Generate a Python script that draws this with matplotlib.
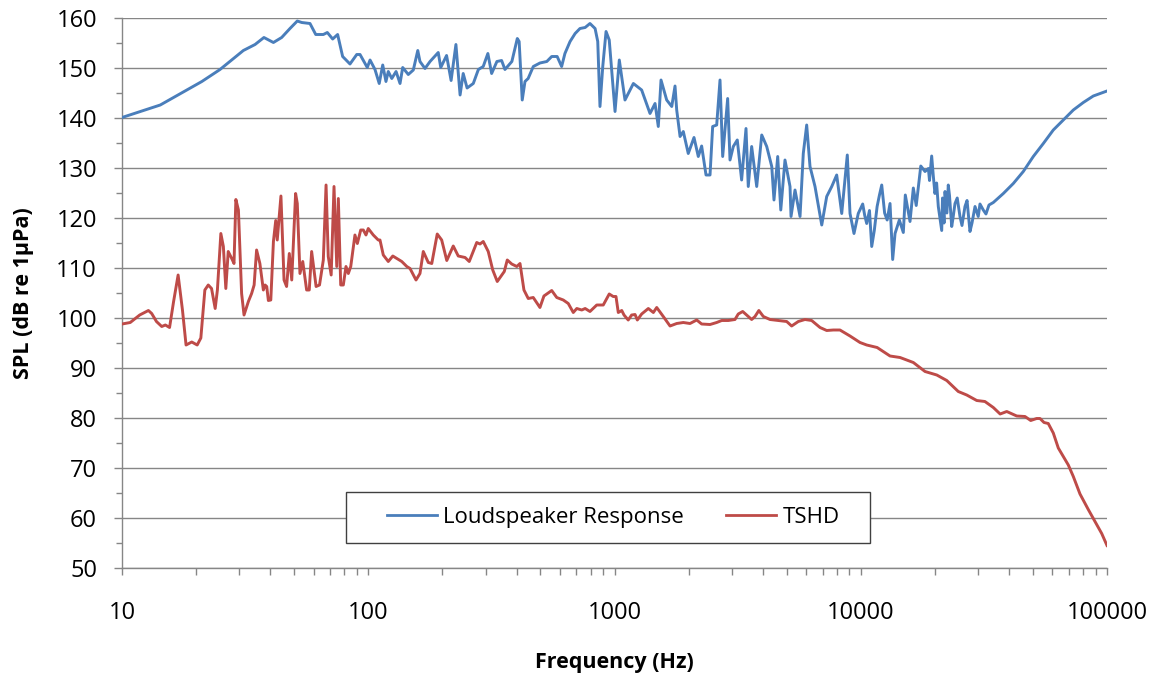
import matplotlib
matplotlib.use("Agg")
import matplotlib.pyplot as plt
from matplotlib.ticker import FixedLocator, NullFormatter, FuncFormatter
from matplotlib.patches import Rectangle
from matplotlib.lines import Line2D

plt.rcParams['font.family'] = ['Open Sans', 'DejaVu Sans']

# Loudspeaker response (Hz, dB re 1 uPa)
speaker_freq = [
    10, 14.3, 21.1, 25.0, 31.1, 34.7, 37.7, 41.2, 44.5, 48.1, 51.5, 53.7, 58.0,
    61.2, 65.7, 68.2, 71.7, 75.1, 78.7, 84.3, 89.8, 92.6, 99.1, 101.7, 106.5,
    110.8, 114.5, 118, 120.6, 124.6, 129.7, 134.6, 138, 145.4, 152.4, 158.9,
    162.2, 170, 178.2, 192.4, 197, 208, 217, 227, 236, 243, 252, 267, 280, 293,
    306, 317, 333, 348, 359, 383, 403, 410, 422, 433, 446, 468, 498, 531, 556,
    585, 610, 629, 660, 692, 724, 760, 795, 834, 855, 873, 896, 924, 952, 1005,
    1046, 1103, 1193, 1289, 1394, 1461, 1506, 1545, 1629, 1708, 1761, 1789,
    1846, 1903, 1993, 2103, 2189, 2259, 2353, 2443, 2504, 2600, 2682, 2750,
    2881, 2945, 3037, 3152, 3283, 3420, 3493, 3606, 3780, 3962, 4151, 4351,
    4443, 4600, 4734, 4924, 5161, 5210, 5408, 5668, 5843, 6032, 6222, 6520,
    6944, 7274, 7625, 7986, 8233, 8371, 8818, 9045, 9388, 9770, 10184, 10380,
    10573, 10850, 11080, 11350, 11654, 11900, 12168, 12500, 12800, 13150,
    13480, 13780, 14345, 14890, 15170, 15850, 16350, 16800, 17150, 17530,
    18240, 18820, 19020, 19410, 19700, 20010, 20330, 20650, 21320, 21480,
    21790, 21990, 22380, 22670, 22930, 23410, 23700, 24140, 24650, 25290,
    25770, 26500, 27020, 27770, 28300, 29110, 30000, 30490, 31450, 32250,
    33170, 34540, 37930, 41640, 45720, 50200, 55130, 60520, 66470, 72980,
    80120, 87980, 100000,
]
speaker_spl = [
    140.1, 142.6, 147.3, 149.7, 153.5, 154.7, 156.1, 155.1, 156.1, 157.9, 159.4,
    159.1, 158.9, 156.7, 156.7, 157.1, 155.8, 156.7, 152.3, 150.8, 152.7, 152.7,
    150.1, 151.6, 149.7, 146.9, 150.6, 147.3, 149.3, 147.9, 149.3, 146.9, 150.1,
    148.7, 149.6, 153.5, 151.3, 149.9, 151.3, 153.1, 150.1, 152.5, 147.5, 154.7,
    144.6, 148.9, 146.0, 146.9, 149.7, 150.3, 152.9, 148.9, 151.3, 151.5, 149.7,
    151.3, 155.9, 155.3, 143.6, 147.3, 147.9, 150.3, 151.0, 151.3, 152.3, 152.3,
    150.3, 152.9, 155.3, 156.9, 157.9, 158.1, 158.9, 157.9, 155.3, 142.3, 150.3,
    157.3, 155.6, 141.3, 151.6, 143.6, 146.9, 145.6, 140.9, 142.9, 138.3, 147.6,
    143.6, 142.3, 146.4, 141.6, 136.3, 137.3, 132.9, 136.1, 132.3, 134.4, 128.6,
    128.6, 138.3, 138.6, 147.6, 132.3, 143.9, 131.6, 134.3, 135.6, 127.6, 137.9,
    126.3, 134.3, 126.3, 136.6, 134.3, 130.3, 123.6, 132.3, 121.6, 131.6, 126.3,
    120.3, 125.6, 120.3, 132.9, 138.6, 130.3, 126.3, 118.6, 124.3, 126.3, 128.6,
    123.6, 120.9, 132.6, 120.9, 116.9, 120.9, 122.8, 120.5,
    118.9, 121.5, 114.3, 117.5, 122.3, 124.5, 126.6, 121.0, 119.6, 122.9,
    111.7, 116.9, 119.6, 117.1, 124.6, 119.3, 126.0, 122.5, 126.3, 130.4,
    129.3, 129.9, 127.5, 132.4, 128.5, 124.9, 127.0, 122.3, 117.5, 124.0,
    119.0, 125.3, 121.0, 126.6, 124.5, 118.3, 120.0, 122.9, 124.0, 120.3,
    118.5, 122.3, 123.5, 117.3, 119.0, 122.3, 120.3, 122.8, 121.6, 120.8,
    122.6, 123.1, 124.9, 126.9, 129.3, 132.3, 134.9, 137.6, 139.6, 141.6,
    143.1, 144.4, 145.4,
]

# TSHD spectrum (Hz, dB re 1 uPa)
tshd_freq = [
    10, 10.8, 11.8, 12.8, 13.2, 13.8, 14.5, 15.0, 15.6, 16.2, 16.9, 17.6, 18.2,
    19.2, 20.2, 20.9, 21.7, 22.4, 23.1, 23.9, 24.4, 25.2, 25.8, 26.4, 27.0,
    27.9, 28.5, 29.0, 29.7, 30.6, 31.3, 32.6, 33.6, 34.4, 35.2, 36.3, 37.5,
    38.1, 38.7, 39.3, 40.2, 41.2, 42.1, 42.7, 44.2, 45.5, 46.6, 47.8, 48.9,
    50.7, 51.5, 52.8, 54.2, 56.2, 57.6, 58.9, 61.4, 63.4, 65.7, 67.4, 68.8,
    70.7, 72.6, 74.5, 75.6, 77.3, 79.2, 81.2, 83.0, 84.9, 88.3, 90.3, 93.2,
    95.5, 97.9, 100, 104.8, 109.8, 111.6, 115.1, 120.6, 125.8, 130.6, 136.8,
    143.4, 147.8, 156.3, 162.2, 167.3, 175.3, 181.1, 190.6, 198.7, 208.4,
    221.4, 232.0, 247.3, 257.1, 275.8, 284.3, 293.1, 307.1, 320.3, 334.1,
    356.8, 366.9, 382.5, 401.1, 413.3, 428.8, 446.4, 467.8, 498, 516.9, 556,
    582.7, 619.3, 649, 680.2, 702.8, 736.1, 760, 795, 847.1, 900.2, 952, 988,
    1014, 1036, 1070, 1093, 1137, 1174, 1212, 1238, 1289, 1372, 1438, 1484,
    1578, 1681, 1789, 1903, 2026, 2157, 2259, 2443, 2600, 2725, 2898, 3085,
    3181, 3316, 3442, 3606, 3720, 3856, 4022, 4281, 4625, 5003, 5241, 5577,
    5937, 6319, 6834, 7274, 7736, 8233, 9045, 9930, 10573, 11654, 13150,
    14440, 16350, 18240, 20360, 22350, 24890, 26940, 29580, 31930, 34540,
    36820, 39160, 43000, 46450, 49000, 51800, 53450, 55500, 57740, 60520,
    63420, 69650, 72980, 77690, 83940, 89390, 95170, 100000,
]
tshd_spl = [
    98.8, 99.1, 100.6, 101.5, 100.9, 99.3, 98.3, 98.6, 98.1, 103.3, 108.6,
    101.6, 94.6, 95.2, 94.6, 96.0, 105.6, 106.6, 105.9, 101.9, 105.6, 116.9,
    114.3, 105.9, 113.3, 111.9, 110.9, 123.7, 121.6, 104.9, 100.6, 103.3, 104.9,
    106.6, 113.6, 110.9, 105.6, 106.6, 106.3, 103.5, 103.6, 115.3, 119.5, 115.6,
    124.4, 107.6, 106.3, 112.9, 107.6, 124.9, 122.9, 108.9, 111.3, 105.6, 105.6,
    113.3, 106.3, 106.6, 111.6, 126.6, 112.3, 108.6, 126.3, 110.3, 123.9, 106.6,
    106.6, 110.3, 108.9, 110.3, 116.6, 114.9, 117.6, 117.6, 116.6, 117.9, 116.6,
    115.6, 115.6, 112.6, 111.3, 112.4, 111.9, 111.3, 110.3, 109.9, 107.6, 108.9,
    113.3, 111.1, 110.9, 116.8, 115.6, 111.5, 114.4, 112.4, 112.1, 111.3, 115.1,
    114.8, 115.3, 113.3, 109.6, 107.3, 109.3, 111.6, 110.8, 110.3, 110.9, 105.6,
    103.9, 104.1, 102.1, 104.4, 105.5, 104.1, 103.6, 102.9, 101.1, 101.9, 101.6,
    101.9, 101.3, 102.6, 102.6, 104.8, 104.3, 104.3, 101.1, 101.5, 100.6, 99.6,
    100.6, 100.7, 99.6, 100.8, 101.9, 101.1, 102.1, 100.3, 98.4, 98.9, 99.1,
    98.9, 99.6, 98.8, 98.7, 99.1, 99.5, 99.5, 99.7, 100.8, 101.3, 100.6, 99.7,
    100.3, 101.5, 100.3, 99.7, 99.5, 99.3, 98.4, 99.3, 99.7, 99.5, 98.1, 97.5,
    97.6, 97.6, 96.4, 95.1, 94.6, 94.1, 92.4, 92.1, 91.1, 89.3, 88.6, 87.5,
    85.3, 84.6, 83.5, 83.3, 82.1, 80.8, 81.3, 80.4, 80.3, 79.5, 79.9, 79.9,
    79.1, 78.9, 77.0, 74.0, 70.6, 68.3, 64.8, 61.7, 59.3, 56.9, 54.5,
]

series_names = ["Loudspeaker Response", "TSHD"]
series_colors = ["#4A7EBB", "#BE4B48"]
y_major = list(range(50, 161, 10))
y_minor = list(range(55, 160, 10))
x_major = [10, 100, 1000, 10000, 100000]
x_minor = [m * d for d in (10, 100, 1000, 10000) for m in range(2, 10)]

axis_grey = "#868686"

fig = plt.figure(figsize=(11.55, 6.78), dpi=100)
ax = fig.add_axes([0.10563, 0.16224, 0.85281, 0.81121])

ax.plot(speaker_freq, speaker_spl, color=series_colors[0], lw=2.1,
        solid_joinstyle="round", zorder=3)
ax.plot(tshd_freq, tshd_spl, color=series_colors[1], lw=2.1,
        solid_joinstyle="round", zorder=3)

ax.set_xscale("log")
ax.set_xlim(10, 100000)
ax.set_ylim(50, 160)

ax.xaxis.set_major_locator(FixedLocator(x_major))
ax.xaxis.set_minor_locator(FixedLocator(x_minor))
ax.xaxis.set_major_formatter(FuncFormatter(lambda v, p: f"{v:.0f}"))
ax.xaxis.set_minor_formatter(NullFormatter())
ax.yaxis.set_major_locator(FixedLocator(y_major))
ax.yaxis.set_minor_locator(FixedLocator(y_minor))

ax.grid(axis="y", which="major", color=axis_grey, lw=1.0, zorder=1)
ax.set_axisbelow(True)

for side in ("top", "right"):
    ax.spines[side].set_visible(False)
for side in ("left", "bottom"):
    ax.spines[side].set_color(axis_grey)
    ax.spines[side].set_linewidth(1.0)

ax.tick_params(axis="y", which="major", direction="out", length=6,
               width=1, color=axis_grey, pad=12, labelsize=17,
               labelcolor="#000000")
ax.tick_params(axis="y", which="minor", direction="out", length=4,
               width=1, color=axis_grey)
ax.tick_params(axis="x", which="both", direction="out", length=5,
               width=1, color=axis_grey)
ax.tick_params(axis="x", which="major", pad=19, labelsize=17,
               labelcolor="#000000")

ax.set_xlabel("Frequency (Hz)", fontsize=15.5, fontweight="bold")
ax.xaxis.set_label_coords(0.5, -0.171)
ax.xaxis.label.set_verticalalignment("center")
ax.set_ylabel("SPL (dB re 1µPa)", fontsize=15.5, fontweight="bold")
ax.yaxis.set_label_coords(-0.1005, 0.5)
ax.yaxis.label.set_verticalalignment("center")

# legend frame, drawn over the grid
ax.add_patch(Rectangle((0.2274, 0.04545), 0.532, 0.09275,
                       transform=ax.transAxes, facecolor="white",
                       edgecolor="#404040", lw=1.0, zorder=4))
handles = [Line2D([], [], color=c, lw=2.0) for c in series_colors]
ax.legend(handles, series_names, loc="center", bbox_to_anchor=(0.4985, 0.0918),
          ncol=2, frameon=False, fontsize=16, handlelength=2.25,
          handletextpad=0.3, columnspacing=1.87, borderpad=0.0
          ).set_zorder(5)

fig.savefig("out.png", dpi=100, facecolor="white")
